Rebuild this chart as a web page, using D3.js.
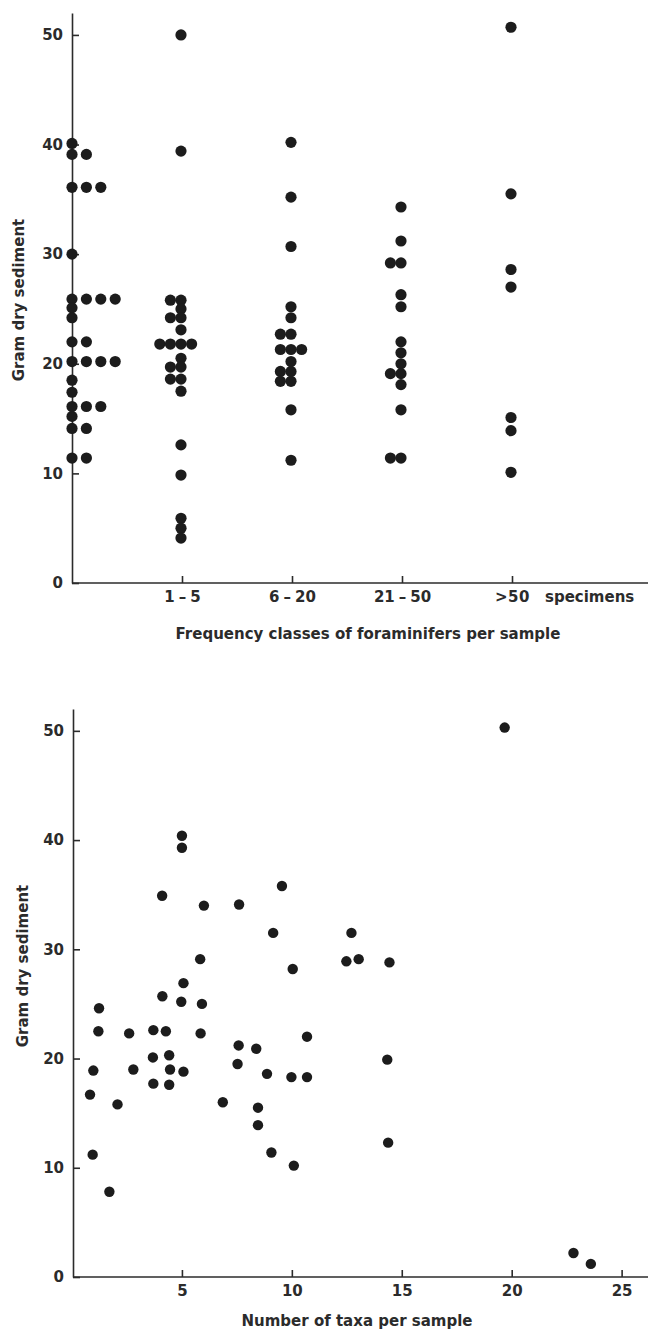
<!DOCTYPE html>
<html>
<head>
<meta charset="utf-8">
<script src="https://cdn.jsdelivr.net/npm/d3@7"></script>
<style>
    body { margin: 0; background: #fff; }
    .axis path, .axis line { stroke: #2b2b2b; stroke-width: 1.6px; }
    .axis text { font-family: "DejaVu Sans", sans-serif; font-weight: bold; font-size: 15px; fill: #2b2b2b; }
    .label { font-family: "DejaVu Sans", sans-serif; font-weight: bold; font-size: 15px; fill: #2b2b2b; }
    .dot { fill: #1c1c1c; }
</style>
</head>
<body>
<div id="chart"></div>
<script>
// DATA - top: gram dry sediment per frequency class
const classNames = ["0", "1–5", "6–20", "21–50", ">50"];
const classTicks = ["1–5", "6–20", "21–50", ">50"];
const gramClass0 = [40.1, 39.1, 39.1, 36.1, 36.1, 36.1, 30.0, 25.9, 25.9, 25.9, 25.9, 25.1, 24.2, 22.0, 22.0,
                    20.2, 20.2, 20.2, 20.2, 18.5, 17.4, 16.1, 16.1, 16.1, 15.2, 14.1, 14.1, 11.4, 11.4];
const gramClass1to5 = [50.0, 39.4, 25.8, 25.8, 25.0, 24.2, 24.2, 23.1, 21.8, 21.8, 21.8, 21.8, 20.5,
                       19.7, 19.7, 18.6, 18.6, 17.5, 12.6, 9.85, 5.9, 5.0, 4.1];
const gramClass6to20 = [40.2, 35.2, 30.7, 25.2, 24.2, 22.7, 22.7, 21.3, 21.3, 21.3, 20.2, 19.3, 19.3,
                        18.4, 18.4, 15.8, 11.2];
const gramClass21to50 = [34.3, 31.2, 29.2, 29.2, 26.3, 25.2, 22.0, 21.0, 20.0, 19.1, 19.1, 18.1, 15.8, 11.4, 11.4];
const gramClassOver50 = [50.7, 35.5, 28.6, 27.0, 15.1, 13.9, 10.1];
const gramTicks = [0, 10, 20, 30, 40, 50];

// DATA - bottom: gram dry sediment vs number of taxa
const taxaCount = [5.0, 5.0, 4.1, 6.0, 7.6, 9.55, 9.15, 5.83, 10.04, 5.07, 4.11, 4.97, 5.91, 1.23, 1.2, 2.6,
                   3.7, 4.27, 5.85, 10.69, 7.58, 8.38, 3.68, 4.42, 7.53, 0.97, 2.79, 4.46, 5.07, 8.87, 9.98,
                   10.69, 3.7, 4.42, 0.82, 2.07, 6.86, 8.46, 8.46, 0.94, 9.07, 10.09, 1.7, 19.68, 12.71,
                   12.48, 13.04, 14.44, 14.34, 14.38, 22.81, 23.6];
const gramTaxa = [40.4, 39.3, 34.9, 34.0, 34.1, 35.8, 31.5, 29.1, 28.2, 26.9, 25.7, 25.2, 25.0, 24.6, 22.5, 22.3,
                  22.6, 22.5, 22.3, 22.0, 21.2, 20.9, 20.1, 20.3, 19.5, 18.9, 19.0, 19.0, 18.8, 18.6, 18.3,
                  18.3, 17.7, 17.6, 16.7, 15.8, 16.0, 15.5, 13.9, 11.2, 11.4, 10.2, 7.8, 50.3, 31.5,
                  28.9, 29.1, 28.8, 19.9, 12.3, 2.2, 1.2];
const taxaTicks = [5, 10, 15, 20, 25];

// CHART DIMENSIONS
const width = 648, height = 1331;
const topChart = {left: 72, right: 648, top: 13, bottom: 583, lastClass: 512};
const botChart = {left: 73, right: 648, top: 709, bottom: 1277};

let svg = d3.select("#chart")
    .append("svg")
    .attr("width", width)
    .attr("height", height);

drawChart_Freq();
drawChart_Taxa();

function drawChart_Freq() {
    let xScale = d3.scalePoint()
        .domain(classNames)
        .range([topChart.left, topChart.lastClass]);

    let yScale = d3.scaleLinear()
        .domain([0, 52])
        .range([topChart.bottom, topChart.top]);

    // build points, equal values sit side by side
    let columns = [gramClass0, gramClass1to5, gramClass6to20, gramClass21to50, gramClassOver50];
    let points = [];
    columns.forEach((vals, ci) => {
        d3.groups(vals, v => v).forEach(([v, arr]) => {
            let start = ci === 0 ? 0 : -Math.floor(arr.length / 2);
            arr.forEach((_, i) => points.push({cls: classNames[ci], value: v, slot: start + i}));
        });
    });
    const slotWidth = cls => cls === "0" ? 14.4 : 10.6;

    // X AXIS
    const xAxis = d3.axisBottom(xScale)
        .tickValues(classTicks)
        .tickSizeInner(-7)
        .tickSizeOuter(0)
        .tickPadding(8);
    let gx = svg.append("g")
        .attr("class", "axis")
        .attr("transform", "translate(0," + topChart.bottom + ")")
        .call(xAxis);
    gx.select(".domain").attr("d", "M" + topChart.left + ",0H" + topChart.right);

    // a bit of air round the dash, like the original typesetting
    gx.selectAll(".tick text").each(function(d) {
        let parts = d.split("–");
        let t = d3.select(this);
        if (parts.length === 2) {
            t.text("");
            t.append("tspan").text(parts[0]);
            t.append("tspan").attr("dx", 4).text("–");
            t.append("tspan").attr("dx", 4).text(parts[1]);
        } else {
            t.style("letter-spacing", "0.5px");
        }
    });

    gx.append("text")
        .attr("class", "label")
        .attr("x", 545)
        .attr("y", 19)
        .attr("text-anchor", "start")
        .text("specimens");

    // Y AXIS
    const yAxis = d3.axisLeft(yScale)
        .tickValues(gramTicks)
        .tickSizeInner(-7)
        .tickSizeOuter(0)
        .tickPadding(9);
    svg.append("g")
        .attr("class", "axis")
        .attr("transform", "translate(" + topChart.left + ",0)")
        .call(yAxis);

    // LABELS
    svg.append("text")
        .attr("class", "label")
        .attr("x", 368)
        .attr("y", 639)
        .attr("text-anchor", "middle")
        .text("Frequency classes of foraminifers per sample");

    svg.append("text")
        .attr("class", "label")
        .attr("transform", "translate(24,300) rotate(-90)")
        .attr("text-anchor", "middle")
        .text("Gram dry sediment");

    // DOTS
    svg.append("g")
        .selectAll("circle")
        .data(points)
        .enter().append("circle")
        .attr("class", "dot")
        .attr("cx", d => xScale(d.cls) - (d.cls === "0" ? 0 : 1) + d.slot * slotWidth(d.cls))
        .attr("cy", d => yScale(d.value))
        .attr("r", 5.6);
}

function drawChart_Taxa() {
    let xScale = d3.scaleLinear()
        .domain([0, 26.2])
        .range([botChart.left - 1, botChart.right]);

    let yScale = d3.scaleLinear()
        .domain([0, 52])
        .range([botChart.bottom, botChart.top]);

    // X AXIS
    const xAxis = d3.axisBottom(xScale)
        .tickValues(taxaTicks)
        .tickSizeInner(-7)
        .tickSizeOuter(0)
        .tickPadding(8);
    let gx = svg.append("g")
        .attr("class", "axis")
        .attr("transform", "translate(0," + botChart.bottom + ")")
        .call(xAxis);
    gx.select(".domain").attr("d", "M" + botChart.left + ",0H" + botChart.right);

    // Y AXIS
    const yAxis = d3.axisLeft(yScale)
        .tickValues(gramTicks)
        .tickSizeInner(-7)
        .tickSizeOuter(0)
        .tickPadding(9);
    svg.append("g")
        .attr("class", "axis")
        .attr("transform", "translate(" + botChart.left + ",0)")
        .call(yAxis);

    // LABELS
    svg.append("text")
        .attr("class", "label")
        .attr("x", 357)
        .attr("y", 1326)
        .attr("text-anchor", "middle")
        .text("Number of taxa per sample");

    svg.append("text")
        .attr("class", "label")
        .attr("transform", "translate(28,966) rotate(-90)")
        .attr("text-anchor", "middle")
        .text("Gram dry sediment");

    // DOTS
    svg.append("g")
        .selectAll("circle")
        .data(taxaCount)
        .enter().append("circle")
        .attr("class", "dot")
        .attr("cx", d => xScale(d))
        .attr("cy", (d, i) => yScale(gramTaxa[i]))
        .attr("r", 5.2);
}
</script>
</body>
</html>
